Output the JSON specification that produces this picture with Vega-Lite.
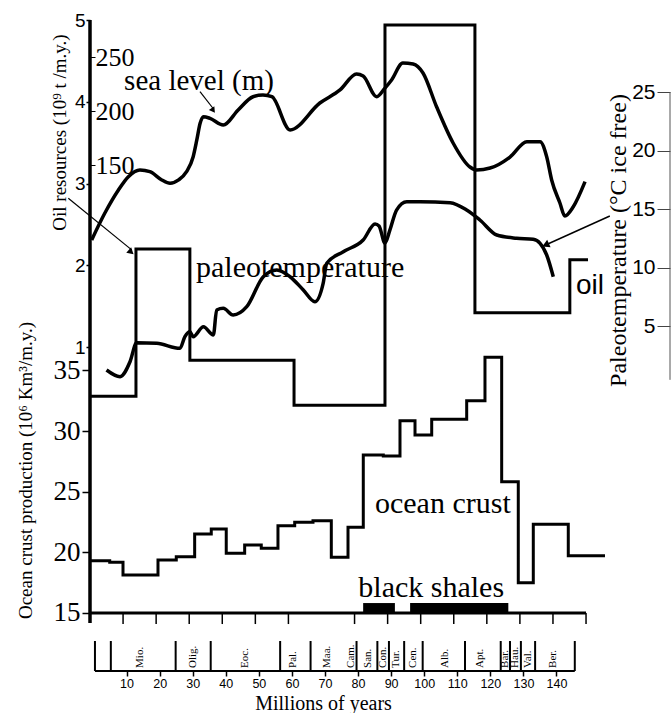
{
  "$schema": "https://vega.github.io/schema/vega-lite/v6.json",
  "width": 580,
  "height": 651,
  "autosize": {"type": "none"},
  "padding": {"left": 90, "top": 20, "right": 1, "bottom": 42},
  "background": "white",
  "config": {
    "view": {"stroke": null},
    "axis": {"grid": false, "domain": false, "labelColor": "black", "tickColor": "black", "titleColor": "black", "titleFontWeight": "normal"}
  },
  "datasets": {
    "oil": [
      {"ma": 0, "v": 0.40}, {"ma": 13.9, "v": 2.20}, {"ma": 30.2, "v": 0.84}, {"ma": 61.7, "v": 0.29},
      {"ma": 89.2, "v": 4.94}, {"ma": 116.4, "v": 1.42}, {"ma": 145.1, "v": 2.07}, {"ma": 150.6, "v": 2.07}
    ],
    "oilArrow": [{"ma": -6.56, "v": 2.82, "ma2": 12.6, "v2": 2.19, "hx": 12.19, "hy": 2.171}],
    "oilNote": [{"ma": 146.96, "v": 1.65, "label": "oil"}],
    "sea": [
      {"ma": 0.5, "v": 80.88}, {"ma": 4.5, "v": 105.85}, {"ma": 8.6, "v": 127.17}, {"ma": 11.6, "v": 139.42},
      {"ma": 15.1, "v": 145.69}, {"ma": 18.1, "v": 144.10}, {"ma": 21.7, "v": 136.43}, {"ma": 24.2, "v": 133.34},
      {"ma": 26.8, "v": 136.43}, {"ma": 29.2, "v": 144.10}, {"ma": 31.2, "v": 157.94}, {"ma": 32.3, "v": 173.46},
      {"ma": 33.3, "v": 188.89}, {"ma": 34.3, "v": 194.97}, {"ma": 36.3, "v": 193.47}, {"ma": 40.3, "v": 187.30},
      {"ma": 44.8, "v": 201.24}, {"ma": 49.3, "v": 213.49}, {"ma": 52.3, "v": 215.08}, {"ma": 55.0, "v": 213.49},
      {"ma": 60.5, "v": 182.72}, {"ma": 69.5, "v": 207.69}, {"ma": 75.6, "v": 219.75}, {"ma": 80.6, "v": 234.53},
      {"ma": 82.6, "v": 232.66}, {"ma": 86.7, "v": 213.49}, {"ma": 89.2, "v": 221.53}, {"ma": 91.2, "v": 229.01},
      {"ma": 94.6, "v": 244.72}, {"ma": 97.7, "v": 243.79}, {"ma": 100.7, "v": 235.46}, {"ma": 104.8, "v": 204.23},
      {"ma": 109.8, "v": 170.66}, {"ma": 114.9, "v": 148.40}, {"ma": 116.9, "v": 145.69}, {"ma": 121.0, "v": 147.46},
      {"ma": 127.0, "v": 157.66}, {"ma": 132.1, "v": 171.87}, {"ma": 136.1, "v": 171.87}, {"ma": 138.1, "v": 157.94},
      {"ma": 139.6, "v": 136.43}, {"ma": 142.1, "v": 115.10}, {"ma": 143.6, "v": 103.04}, {"ma": 146.1, "v": 111.36},
      {"ma": 149.7, "v": 134.84}
    ],
    "seaArrow": [{"ma": 33.26, "v": 218.16, "ma2": 37.3, "v2": 202.36, "hx": 37.1, "hy": 201.52}],
    "seaNote": [{"ma": 32.96, "v": 219.75, "label": "sea level (m)"}],
    "temp": [
      {"ma": 5.0, "v": 1.24}, {"ma": 9.1, "v": 0.67}, {"ma": 12.1, "v": 1.95}, {"ma": 14.1, "v": 3.57},
      {"ma": 20.2, "v": 3.52}, {"ma": 27.2, "v": 3.09}, {"ma": 28.7, "v": 4.09}, {"ma": 30.2, "v": 4.51},
      {"ma": 31.2, "v": 4.09}, {"ma": 34.3, "v": 4.94}, {"ma": 37.3, "v": 4.23}, {"ma": 38.3, "v": 6.37},
      {"ma": 40.3, "v": 6.51}, {"ma": 43.3, "v": 5.94}, {"ma": 47.4, "v": 6.65}, {"ma": 52.4, "v": 9.21},
      {"ma": 56.5, "v": 9.79}, {"ma": 60.5, "v": 9.21}, {"ma": 64.5, "v": 8.08}, {"ma": 68.0, "v": 7.08},
      {"ma": 70.5, "v": 8.65}, {"ma": 71.6, "v": 10.36}, {"ma": 76.6, "v": 11.35}, {"ma": 82.6, "v": 12.35},
      {"ma": 86.2, "v": 13.72}, {"ma": 87.4, "v": 13.55}, {"ma": 89.2, "v": 12.09}, {"ma": 90.7, "v": 13.21},
      {"ma": 92.7, "v": 14.91}, {"ma": 95.8, "v": 15.62}, {"ma": 99.8, "v": 15.62}, {"ma": 108.9, "v": 15.54},
      {"ma": 113.9, "v": 14.91}, {"ma": 117.9, "v": 14.06}, {"ma": 123.0, "v": 12.78}, {"ma": 129.0, "v": 12.50},
      {"ma": 134.0, "v": 12.41}, {"ma": 136.1, "v": 12.07}, {"ma": 138.1, "v": 11.07}, {"ma": 140.1, "v": 9.21}
    ],
    "tempArrow": [{"ma": 157.2, "v": 14.40, "ma2": 138.6, "v2": 12.03, "hx": 138.1, "hy": 11.97}],
    "tempNote": [{"ma": 32.05, "v": 9.19, "label": "paleotemperature"}],
    "crust": [
      {"ma": 0, "v": 19.31}, {"ma": 5.96, "v": 19.18}, {"ma": 9.98, "v": 18.13}, {"ma": 20.56, "v": 19.37},
      {"ma": 26.09, "v": 19.64}, {"ma": 31.65, "v": 21.51}, {"ma": 36.67, "v": 21.92}, {"ma": 41.20, "v": 19.92},
      {"ma": 46.77, "v": 20.61}, {"ma": 51.79, "v": 20.33}, {"ma": 56.84, "v": 22.20}, {"ma": 61.90, "v": 22.48},
      {"ma": 67.43, "v": 22.61}, {"ma": 72.97, "v": 19.59}, {"ma": 78.02, "v": 22.07}, {"ma": 82.64, "v": 28.03},
      {"ma": 88.69, "v": 27.94}, {"ma": 93.74, "v": 30.85}, {"ma": 98.28, "v": 29.67}, {"ma": 103.33, "v": 30.97},
      {"ma": 113.91, "v": 32.50}, {"ma": 119.44, "v": 36.08}, {"ma": 124.49, "v": 25.82}, {"ma": 129.51, "v": 17.50},
      {"ma": 134.05, "v": 22.31}, {"ma": 144.63, "v": 19.72}, {"ma": 155.73, "v": 19.72}
    ],
    "shales": [{"ma": 82.6, "ma2": 92.2}, {"ma": 96.8, "ma2": 126.5}],
    "crustNotes": [
      {"ma": 86.18, "v": 23.22, "label": "ocean crust"},
      {"ma": 81.13, "v": 16.29, "label": "black shales"}
    ],
    "ticks": [
      {"ma": 10}, {"ma": 20}, {"ma": 30}, {"ma": 40}, {"ma": 50}, {"ma": 60}, {"ma": 80},
      {"ma": 90}, {"ma": 100}, {"ma": 110}, {"ma": 120}, {"ma": 130}, {"ma": 140}, {"ma": 150}
    ],
    "bounds": [
      {"ma": 1.5}, {"ma": 6.3}, {"ma": 25.9}, {"ma": 36.5}, {"ma": 57.5}, {"ma": 66.7}, {"ma": 80.6},
      {"ma": 86.9}, {"ma": 90.4}, {"ma": 95.0}, {"ma": 100.6}, {"ma": 113.4}, {"ma": 124.2}, {"ma": 127.0},
      {"ma": 130.3}, {"ma": 134.6}, {"ma": 146.6}
    ],
    "stages": [
      {"ma": 15.1, "label": "Mio."}, {"ma": 31.2, "label": "Olig."}, {"ma": 46.9, "label": "Eoc."},
      {"ma": 61.5, "label": "Pal."}, {"ma": 71.6, "label": "Maa."}, {"ma": 78.8, "label": "Cam."},
      {"ma": 84.2, "label": "San."}, {"ma": 88.7, "label": "Con."}, {"ma": 92.5, "label": "Tur."},
      {"ma": 97.8, "label": "Cen."}, {"ma": 107.3, "label": "Alb."}, {"ma": 117.9, "label": "Apt."},
      {"ma": 125.5, "label": "Bar."}, {"ma": 128.5, "label": "Hau."}, {"ma": 132.4, "label": "Val."},
      {"ma": 140.1, "label": "Ber."}
    ]
  },
  "resolve": {"scale": {"y": "independent"}, "axis": {"x": "independent"}},
  "layer": [
    {
      "data": {"name": "oil"},
      "mark": {"type": "line", "interpolate": "step-after", "color": "black", "strokeWidth": 3},
      "encoding": {
        "x": {"field": "ma", "type": "quantitative", "scale": {"domain": [0, 175.39], "nice": false, "zero": false},
          "axis": {"orient": "bottom", "values": [10, 20, 30, 40, 50, 60, 70, 80, 90, 100, 110, 120, 130, 140],
            "tickSize": 5, "tickWidth": 1.5, "tickOffset": 3.5, "labelPadding": 1,
            "labelFont": "Liberation Sans", "labelFontSize": 12.5,
            "title": "Millions of years", "titleFont": "Liberation Serif", "titleFontSize": 20,
            "titleX": 233, "titleY": 38, "titleAlign": "center", "titleBaseline": "alphabetic"}},
        "y": {"field": "v", "type": "quantitative", "scale": {"domain": [-2.958, 5], "nice": false, "zero": false},
          "axis": {"orient": "left", "values": [1, 2, 3, 4, 5], "tickSize": 4, "tickWidth": 1.5, "labelPadding": 1,
            "labelFont": "Liberation Sans", "labelFontSize": 19,
            "title": "Oil resources (10⁹ t /m.y.)", "titleFont": "Liberation Serif", "titleFontSize": 19,
            "titleX": -25, "titleY": 112, "titleAngle": 270, "titleAlign": "center", "titleBaseline": "alphabetic"}}
      }
    },
    {
      "data": {"name": "sea"},
      "mark": {"type": "line", "interpolate": "monotone", "color": "black", "strokeWidth": 3.5},
      "encoding": {
        "x": {"field": "ma", "type": "quantitative", "scale": {"domain": [0, 175.39], "nice": false, "zero": false}, "axis": null},
        "y": {"field": "v", "type": "quantitative", "scale": {"domain": [-318.24, 284.54], "nice": false, "zero": false},
          "axis": {"orient": "right", "offset": -580, "values": [150, 200, 250], "tickSize": 5, "tickWidth": 1, "labelPadding": 0,
            "labelFont": "Liberation Serif", "labelFontSize": 26, "title": null}}
      }
    },
    {
      "data": {"name": "temp"},
      "mark": {"type": "line", "interpolate": "monotone", "color": "black", "strokeWidth": 3.5},
      "encoding": {
        "x": {"field": "ma", "type": "quantitative", "scale": {"domain": [0, 175.39], "nice": false, "zero": false}, "axis": null},
        "y": {"field": "v", "type": "quantitative", "scale": {"domain": [-24.487, 31.154], "nice": false, "zero": false},
          "axis": {"orient": "left", "offset": -580, "values": [5, 10, 15, 20, 25], "tickSize": 13, "tickWidth": 1, "tickColor": "#444", "labelPadding": 2,
            "labelFont": "Liberation Sans", "labelFontSize": 21,
            "title": "Paleotemperature (°C ice free)", "titleFont": "Liberation Serif", "titleFontSize": 24,
            "titleX": -45, "titleY": 220, "titleAngle": 270, "titleAlign": "center", "titleBaseline": "alphabetic"}}
      }
    },
    {
      "data": {"name": "crust"},
      "mark": {"type": "line", "interpolate": "step-after", "color": "black", "strokeWidth": 3},
      "encoding": {
        "x": {"field": "ma", "type": "quantitative", "scale": {"domain": [0, 175.39], "nice": false, "zero": false}, "axis": null},
        "y": {"field": "v", "type": "quantitative", "scale": {"domain": [10.218, 63.887], "nice": false, "zero": false},
          "axis": {"orient": "left", "values": [15, 20, 25, 30, 35], "tickSize": 8, "tickWidth": 1.5, "labelPadding": 2,
            "labelFont": "Liberation Serif", "labelFontSize": 27,
            "title": "Ocean crust production (10⁶ Km³/m.y.)", "titleFont": "Liberation Serif", "titleFontSize": 19,
            "titleX": -59, "titleY": 450, "titleAngle": 270, "titleAlign": "center", "titleBaseline": "alphabetic"}}
      }
    },
    {
      "data": {"name": "oilArrow"},
      "mark": {"type": "rule", "color": "black", "strokeWidth": 1.2},
      "encoding": {
        "x": {"field": "ma", "type": "quantitative", "scale": {"domain": [0, 175.39], "nice": false, "zero": false}, "axis": null},
        "x2": {"field": "ma2"},
        "y": {"field": "v", "type": "quantitative", "scale": {"domain": [-2.958, 5], "nice": false, "zero": false}, "axis": null},
        "y2": {"field": "v2"}
      }
    },
    {
      "data": {"name": "oilArrow"},
      "mark": {"type": "point", "shape": "triangle", "filled": true, "color": "black", "opacity": 1, "size": 55, "angle": 131},
      "encoding": {
        "x": {"field": "hx", "type": "quantitative", "scale": {"domain": [0, 175.39], "nice": false, "zero": false}, "axis": null},
        "y": {"field": "hy", "type": "quantitative", "scale": {"domain": [-2.958, 5], "nice": false, "zero": false}, "axis": null}
      }
    },
    {
      "data": {"name": "oilNote"},
      "mark": {"type": "text", "font": "Liberation Sans", "fontSize": 28, "align": "left", "baseline": "alphabetic", "color": "black"},
      "encoding": {
        "x": {"field": "ma", "type": "quantitative", "scale": {"domain": [0, 175.39], "nice": false, "zero": false}, "axis": null},
        "y": {"field": "v", "type": "quantitative", "scale": {"domain": [-2.958, 5], "nice": false, "zero": false}, "axis": null},
        "text": {"field": "label"}
      }
    },
    {
      "data": {"name": "seaArrow"},
      "mark": {"type": "rule", "color": "black", "strokeWidth": 1.2},
      "encoding": {
        "x": {"field": "ma", "type": "quantitative", "scale": {"domain": [0, 175.39], "nice": false, "zero": false}, "axis": null},
        "x2": {"field": "ma2"},
        "y": {"field": "v", "type": "quantitative", "scale": {"domain": [-318.24, 284.54], "nice": false, "zero": false}, "axis": null},
        "y2": {"field": "v2"}
      }
    },
    {
      "data": {"name": "seaArrow"},
      "mark": {"type": "point", "shape": "triangle", "filled": true, "color": "black", "opacity": 1, "size": 45, "angle": 145},
      "encoding": {
        "x": {"field": "hx", "type": "quantitative", "scale": {"domain": [0, 175.39], "nice": false, "zero": false}, "axis": null},
        "y": {"field": "hy", "type": "quantitative", "scale": {"domain": [-318.24, 284.54], "nice": false, "zero": false}, "axis": null}
      }
    },
    {
      "data": {"name": "seaNote"},
      "mark": {"type": "text", "font": "Liberation Serif", "fontSize": 29, "align": "center", "baseline": "alphabetic", "color": "black"},
      "encoding": {
        "x": {"field": "ma", "type": "quantitative", "scale": {"domain": [0, 175.39], "nice": false, "zero": false}, "axis": null},
        "y": {"field": "v", "type": "quantitative", "scale": {"domain": [-318.24, 284.54], "nice": false, "zero": false}, "axis": null},
        "text": {"field": "label"}
      }
    },
    {
      "data": {"values": [{}]},
      "mark": {"type": "rule", "color": "#555", "strokeWidth": 1},
      "encoding": {
        "x": {"datum": 175.39, "type": "quantitative", "scale": {"domain": [0, 175.39], "nice": false, "zero": false}, "axis": null},
        "y": {"datum": 0.4, "type": "quantitative", "scale": {"domain": [-24.487, 31.154], "nice": false, "zero": false}, "axis": null},
        "y2": {"datum": 25}
      }
    },
    {
      "data": {"name": "tempArrow"},
      "mark": {"type": "rule", "color": "black", "strokeWidth": 1.5},
      "encoding": {
        "x": {"field": "ma", "type": "quantitative", "scale": {"domain": [0, 175.39], "nice": false, "zero": false}, "axis": null},
        "x2": {"field": "ma2"},
        "y": {"field": "v", "type": "quantitative", "scale": {"domain": [-24.487, 31.154], "nice": false, "zero": false}, "axis": null},
        "y2": {"field": "v2"}
      }
    },
    {
      "data": {"name": "tempArrow"},
      "mark": {"type": "point", "shape": "triangle", "filled": true, "color": "black", "opacity": 1, "size": 70, "angle": 246},
      "encoding": {
        "x": {"field": "hx", "type": "quantitative", "scale": {"domain": [0, 175.39], "nice": false, "zero": false}, "axis": null},
        "y": {"field": "hy", "type": "quantitative", "scale": {"domain": [-24.487, 31.154], "nice": false, "zero": false}, "axis": null}
      }
    },
    {
      "data": {"name": "tempNote"},
      "mark": {"type": "text", "font": "Liberation Serif", "fontSize": 30, "align": "left", "baseline": "alphabetic", "color": "black"},
      "encoding": {
        "x": {"field": "ma", "type": "quantitative", "scale": {"domain": [0, 175.39], "nice": false, "zero": false}, "axis": null},
        "y": {"field": "v", "type": "quantitative", "scale": {"domain": [-24.487, 31.154], "nice": false, "zero": false}, "axis": null},
        "text": {"field": "label"}
      }
    },
    {
      "data": {"name": "shales"},
      "mark": {"type": "rect", "color": "black"},
      "encoding": {
        "x": {"field": "ma", "type": "quantitative", "scale": {"domain": [0, 175.39], "nice": false, "zero": false}, "axis": null},
        "x2": {"field": "ma2"},
        "y": {"datum": 15, "type": "quantitative", "scale": {"domain": [10.218, 63.887], "nice": false, "zero": false}, "axis": null},
        "y2": {"datum": 15.82}
      }
    },
    {
      "data": {"values": [{}]},
      "mark": {"type": "rule", "color": "black", "strokeWidth": 3.5},
      "encoding": {
        "x": {"datum": 0, "type": "quantitative", "scale": {"domain": [0, 175.39], "nice": false, "zero": false}, "axis": null},
        "y": {"datum": 14.18, "type": "quantitative", "scale": {"domain": [10.218, 63.887], "nice": false, "zero": false}, "axis": null},
        "y2": {"datum": 63.887}
      }
    },
    {
      "data": {"values": [{}]},
      "mark": {"type": "rule", "color": "black", "strokeWidth": 3},
      "encoding": {
        "x": {"datum": 0, "type": "quantitative", "scale": {"domain": [0, 175.39], "nice": false, "zero": false}, "axis": null},
        "x2": {"datum": 150},
        "y": {"datum": 15, "type": "quantitative", "scale": {"domain": [10.218, 63.887], "nice": false, "zero": false}, "axis": null}
      }
    },
    {
      "data": {"name": "ticks"},
      "mark": {"type": "rule", "color": "black", "strokeWidth": 1.5},
      "encoding": {
        "x": {"field": "ma", "type": "quantitative", "scale": {"domain": [0, 175.39], "nice": false, "zero": false}, "axis": null},
        "y": {"datum": 15, "type": "quantitative", "scale": {"domain": [10.218, 63.887], "nice": false, "zero": false}, "axis": null},
        "y2": {"datum": 14.09}
      }
    },
    {
      "data": {"values": [{}]},
      "mark": {"type": "rule", "color": "black", "strokeWidth": 2},
      "encoding": {
        "x": {"datum": 1.5, "type": "quantitative", "scale": {"domain": [0, 175.39], "nice": false, "zero": false}, "axis": null},
        "x2": {"datum": 146.6},
        "y": {"datum": 10.218, "type": "quantitative", "scale": {"domain": [10.218, 63.887], "nice": false, "zero": false}, "axis": null}
      }
    },
    {
      "data": {"name": "bounds"},
      "mark": {"type": "rule", "color": "black", "strokeWidth": 2},
      "encoding": {
        "x": {"field": "ma", "type": "quantitative", "scale": {"domain": [0, 175.39], "nice": false, "zero": false}, "axis": null},
        "y": {"datum": 12.69, "type": "quantitative", "scale": {"domain": [10.218, 63.887], "nice": false, "zero": false}, "axis": null},
        "y2": {"datum": 10.218}
      }
    },
    {
      "data": {"name": "stages"},
      "mark": {"type": "text", "font": "Liberation Serif", "angle": 270, "align": "left", "baseline": "middle", "color": "black"},
      "encoding": {
        "x": {"field": "ma", "type": "quantitative", "scale": {"domain": [0, 175.39], "nice": false, "zero": false}, "axis": null},
        "y": {"datum": 10.47, "type": "quantitative", "scale": {"domain": [10.218, 63.887], "nice": false, "zero": false}, "axis": null},
        "text": {"field": "label"},
        "fontSize": {"condition": {"test": "indexof(['Con.','Bar.','Hau.'], datum.label) >= 0", "value": 10}, "value": 13.5}
      }
    },
    {
      "data": {"name": "crustNotes"},
      "mark": {"type": "text", "font": "Liberation Serif", "fontSize": 30, "align": "left", "baseline": "alphabetic", "color": "black"},
      "encoding": {
        "x": {"field": "ma", "type": "quantitative", "scale": {"domain": [0, 175.39], "nice": false, "zero": false}, "axis": null},
        "y": {"field": "v", "type": "quantitative", "scale": {"domain": [10.218, 63.887], "nice": false, "zero": false}, "axis": null},
        "text": {"field": "label"}
      }
    }
  ]
}
